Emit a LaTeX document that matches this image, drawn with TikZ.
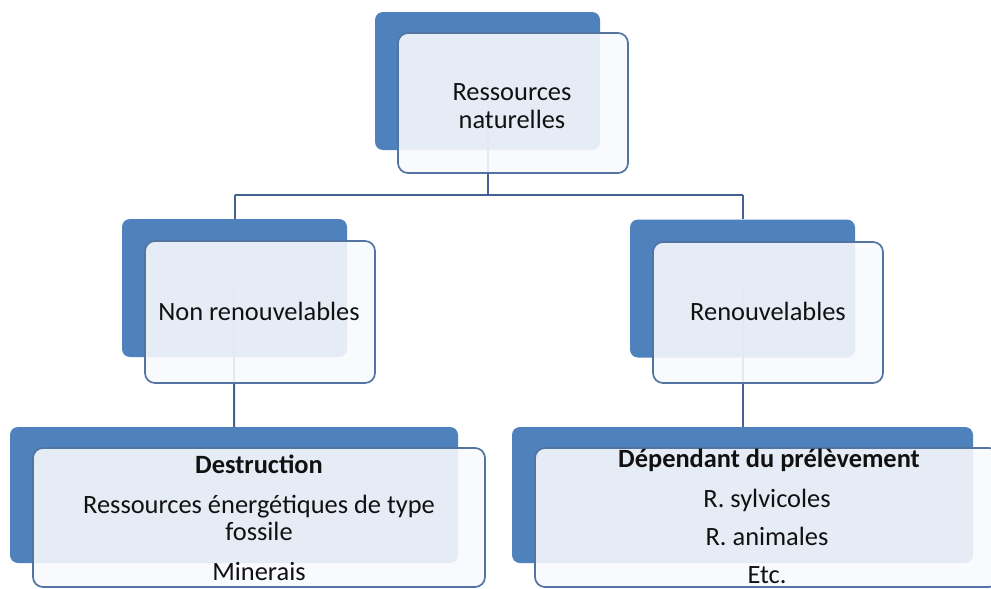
\documentclass[tikz,border=0pt]{standalone}
\usepackage{fontspec}
\setmainfont{Carlito}
\definecolor{backblue}{HTML}{4F81BD}
\definecolor{frontline}{HTML}{5373A0}
\definecolor{conn}{HTML}{41628F}
\definecolor{frontfill}{HTML}{F8FAFD}
\definecolor{txt}{HTML}{111111}
\begin{document}
\begin{tikzpicture}[x=1pt,y=-1pt,
  backbox/.style={rectangle, rounded corners=8pt, fill=backblue, draw=none, inner sep=0pt},
  frontbox/.style={rectangle, rounded corners=10pt, fill=frontfill, fill opacity=0.89, draw=frontline, draw opacity=1, line width=1.7pt, inner sep=0pt},
  lbl/.style={anchor=base, inner sep=0pt, text=txt, font=\fontsize{26.4}{27}\selectfont},
  blbl/.style={lbl, font=\fontsize{26.4}{27}\selectfont\bfseries},
  link/.style={draw=conn, line width=2pt}]
\useasboundingbox (0,0) rectangle (991,589);
\fill[white] (0,0) rectangle (991,589);
% connector anchors
\coordinate (j0) at (487.5,195);
\coordinate (jl) at (234.5,195);
\coordinate (jr) at (742.5,195);
% back boxes
\node[backbox, minimum width=225pt, minimum height=138pt] (b0) at (487.5,81) {};
\node[backbox, minimum width=225pt, minimum height=138pt] (bl) at (234.5,288) {};
\node[backbox, minimum width=225pt, minimum height=138pt] (br) at (742.5,288.5) {};
\node[backbox, minimum width=448pt, minimum height=136pt] (bll) at (234,495) {};
\node[backbox, minimum width=461pt, minimum height=136pt] (brr) at (742.5,495) {};
% connectors (drawn under the front boxes)
\draw[link] (b0.center) -- (j0);
\draw[link] (jl) -- (jr);
\draw[link] (jl) -- (bl.north);
\draw[link] (jr) -- (br.north);
\draw[link] (bl.center) -- (bll.north);
\draw[link] (br.center) -- (brr.north);
% front boxes
\node[frontbox, minimum width=230pt, minimum height=140pt] (f0) at (513,103) {};
\node[frontbox, minimum width=230pt, minimum height=142pt] (fl) at (260,312) {};
\node[frontbox, minimum width=230pt, minimum height=141pt] (fr) at (768,312.5) {};
\node[frontbox, minimum width=452pt, minimum height=139pt] (fll) at (259,517.5) {};
\node[frontbox, minimum width=464pt, minimum height=139pt] (frr) at (767,517.5) {};
% labels
\node[lbl] (t0a) at (512,100) {Ressources};
\node[lbl] (t0b) at (512,128) {naturelles};
\node[lbl] (tl) at (259,320) {Non renouvelables};
\node[lbl] (tr) at (768,320) {Renouvelables};
\node[blbl] (tll1) at (259,473) {Destruction};
\node[lbl] (tll2) at (259,513) {Ressources énergétiques de type};
\node[lbl] (tll3) at (259,540) {fossile};
\node[lbl] (tll4) at (259,580) {Minerais};
\node[blbl] (trr1) at (769,467) {Dépendant du prélèvement};
\node[lbl] (trr2) at (767,507) {R. sylvicoles};
\node[lbl] (trr3) at (767,545) {R. animales};
\node[lbl] (trr4) at (767,583) {Etc.};
\end{tikzpicture}
\end{document}
